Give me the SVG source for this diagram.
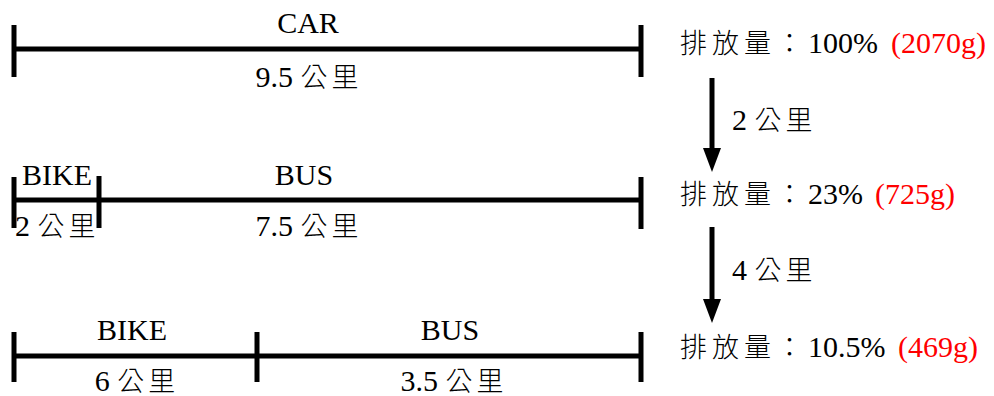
<svg xmlns="http://www.w3.org/2000/svg" width="994" height="396" viewBox="0 0 994 396">
<style>
text{font-family:"Liberation Serif","Noto Sans CJK TC",serif;font-size:30px;fill:#000}
.c{text-anchor:middle}
.r{fill:#FF0000}
.ln{stroke:#000;stroke-width:5;fill:none}
.k{font-size:27px;letter-spacing:4px;font-weight:300}
</style>
<rect width="994" height="396" fill="#fff"/>
<g id="row-car">
<path class="ln" d="M14 49H641M14 25V77M641 25V77"/>
<text class="c" x="308" y="33">CAR</text>
<text class="c" x="309" y="87">9.5 <tspan class="k">公里</tspan></text>
</g>
<g id="row-bike-bus-1">
<path class="ln" d="M14 200H641M14 177V228M99 176V228M641 177V229"/>
<text class="c" x="57" y="185">BIKE</text>
<text class="c" x="304" y="185">BUS</text>
<text x="15" y="236">2 <tspan class="k">公里</tspan></text>
<text class="c" x="309" y="236">7.5 <tspan class="k">公里</tspan></text>
</g>
<g id="row-bike-bus-2">
<path class="ln" d="M14 356H641M14 332V382M257 332V382M641 332V382"/>
<text class="c" x="132" y="340">BIKE</text>
<text class="c" x="450" y="340">BUS</text>
<text class="c" x="137" y="391">6 <tspan class="k">公里</tspan></text>
<text class="c" x="454" y="391">3.5 <tspan class="k">公里</tspan></text>
</g>
<g id="label-1">
<text y="53"><tspan class="k" x="680 712 744 776">排放量：</tspan><tspan x="808">100%</tspan><tspan class="r" x="891">(2070g)</tspan></text>
</g>
<g id="label-2">
<text y="204"><tspan class="k" x="680 712 744 776">排放量：</tspan><tspan x="808">23%</tspan><tspan class="r" x="875">(725g)</tspan></text>
</g>
<g id="label-3">
<text y="357"><tspan class="k" x="680 712 744 776">排放量：</tspan><tspan x="808">10.5%</tspan><tspan class="r" x="898">(469g)</tspan></text>
</g>
<g id="connectors">
<path class="ln" d="M712 78V150"/>
<polygon points="703,148 721,148 712,172" fill="#000"/>
<path class="ln" d="M712 227V300"/>
<polygon points="703,299 721,299 712,323" fill="#000"/>
<text x="732" y="130">2 <tspan class="k">公里</tspan></text>
<text x="732" y="280">4 <tspan class="k">公里</tspan></text>
</g>
</svg>
